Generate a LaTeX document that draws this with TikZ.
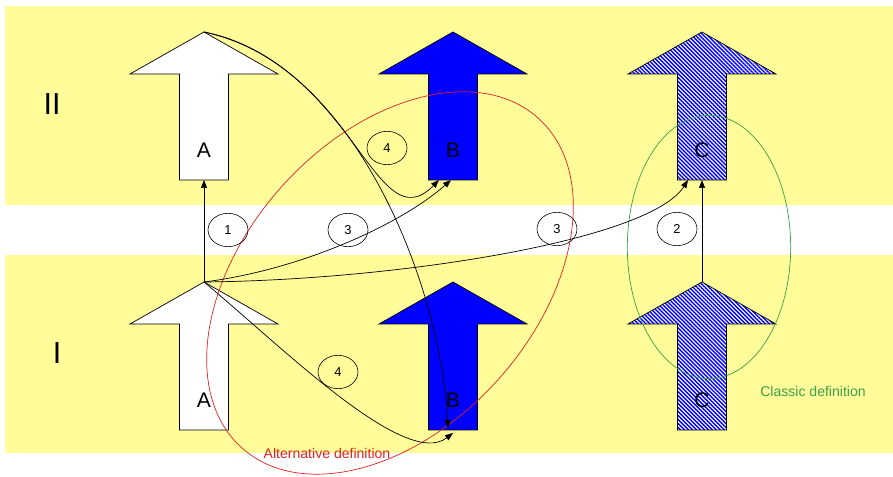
\documentclass[tikz,border=0pt]{standalone}
\usepackage{fontspec}
\setmainfont{Liberation Sans}
\usetikzlibrary{arrows.meta, calc, shapes.geometric, patterns.meta}
\definecolor{bandyellow}{RGB}{255,252,153}
\definecolor{altred}{RGB}{225,35,35}
\definecolor{clsgreen}{RGB}{60,160,70}

\tikzset{
  pics/bigarrow/.style 2 args={code={
    \path[draw, line width=0.6pt, #2] (-24.5,0) -- (-24.5,-106) -- (-74,-106) -- (0,-148)
      -- (74,-106) -- (24.5,-106) -- (24.5,0) -- cycle;
    \coordinate (-base) at (0,0);
    \coordinate (-tip) at (0,-148);
    \node[font=\fontsize{18}{20}\selectfont] (-label) at (0,-30) {#1};
  }}
}

\begin{document}
\begin{tikzpicture}[
    x=0.3mm, y=-0.3mm,
    >={Triangle[length=2.4mm, width=1.8mm]},
    whitearrow/.style={fill=white},
    bluearrow/.style={fill=blue},
    hatcharrow/.style={preaction={fill=white}, pattern={Lines[angle=-45, distance=2.4pt, line width=1.2pt]}, pattern color=blue},
    rowlabel/.style={font=\fontsize{26}{28}\selectfont},
    numtag/.style={draw, ellipse, line width=0.5pt, minimum width=12mm, minimum height=10mm, inner sep=0pt, font=\fontsize{11}{13}\selectfont},
    deflabel/.style={font=\fontsize{12}{14}\selectfont},
    link/.style={->, line width=0.6pt},
]
    \useasboundingbox (0,0) rectangle (893,477);

    % Yellow bands
    \fill[bandyellow] (5,6) rectangle (893,205);
    \fill[bandyellow] (5,255) rectangle (893,453);

    % Row labels
    \node[rowlabel] (rowII) at (52,104) {II};
    \node[rowlabel] (rowI) at (57,353) {I};

    % Row II
    \pic (A2) at (204,180) {bigarrow={A}{whitearrow}};
    \pic (B2) at (453,180) {bigarrow={B}{bluearrow}};
    \pic (C2) at (702,180) {bigarrow={C}{hatcharrow}};

    % Row I
    \pic (A1) at (204,430) {bigarrow={A}{whitearrow}};
    \pic (B1) at (453,430) {bigarrow={B}{bluearrow}};
    \pic (C1) at (702,430) {bigarrow={C}{hatcharrow}};

    % Definitions
    \node[draw=altred, line width=0.6pt, ellipse, rotate=48, minimum width=133mm, minimum height=87mm] (alt) at (390,283) {};
    \node[draw=clsgreen, line width=0.6pt, ellipse, minimum width=49mm, minimum height=79mm] (cls) at (709,247) {};
    \node[deflabel, text=altred] (altlabel) at (327,453) {Alternative definition};
    \node[deflabel, text=clsgreen] (clslabel) at (813,391) {Classic definition};

    % Connectors
    \draw[link] (A1-tip) -- (A2-base);
    \draw[link] (C1-tip) -- (C2-base);
    \draw[link] (A1-tip) .. controls (300,270) and (400,225) .. ($(B2-base)+(-2,0)$);
    \draw[link] (A1-tip) .. controls (400,280) and (650,240) .. ($(C2-base)+(-14,0)$);
    \draw[link] (A2-tip) .. controls (355,65) and (375,245) .. ($(B2-base)+(-14,0)$);
    \draw[link] (A2-tip) .. controls (350,60) and (440,278) .. ($(B1-base)+(-5,-2)$);
    \draw[link] (A1-tip) .. controls (280,345) and (405,470) .. ($(B1-base)+(0,3)$);

    % Step tags
    \node[numtag] (n1) at (228,230) {1};
    \node[numtag] (n2) at (677,229) {2};
    \node[numtag] (n3a) at (348,230) {3};
    \node[numtag] (n3b) at (557,229) {3};
    \node[numtag] (n4a) at (387,148) {4};
    \node[numtag] (n4b) at (338,372) {4};
\end{tikzpicture}
\end{document}
